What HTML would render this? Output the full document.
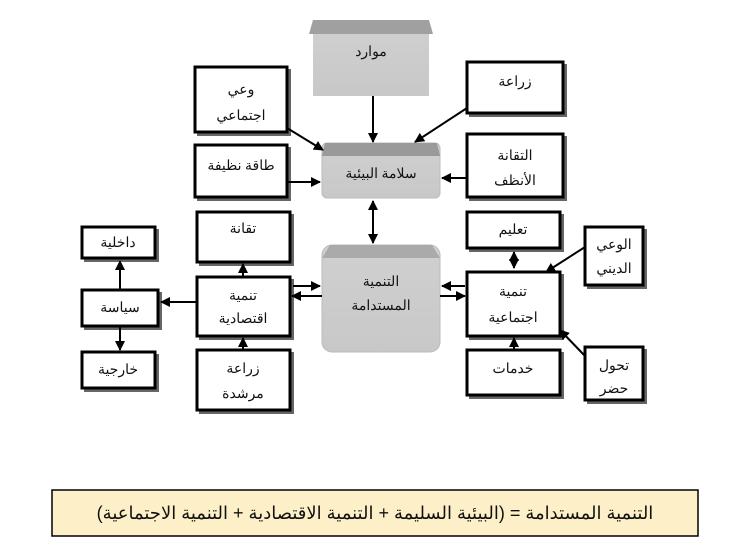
<!DOCTYPE html>
<html><head><meta charset="utf-8"><style>
body{margin:0;width:750px;height:554px;background:#fff;overflow:hidden}
text{font-family:"Liberation Serif","Noto Serif CJK SC","DejaVu Serif",serif;font-size:14px;text-anchor:middle;fill:#111}
</style></head><body>
<svg width="750" height="554" viewBox="0 0 750 554" xmlns="http://www.w3.org/2000/svg">
<defs>
<marker id="a" viewBox="0 0 10 10" refX="9" refY="5" markerWidth="5" markerHeight="5" orient="auto-start-reverse"><path d="M0,0L10,5L0,10z" fill="#000"/></marker>
<linearGradient id="g" x1="0" y1="0" x2="0" y2="1"><stop offset="0" stop-color="#d0d0d0"/><stop offset="1" stop-color="#c8c8c8"/></linearGradient>
</defs>
<g fill="#fff" stroke="#000" stroke-width="3">
<g fill="#666" stroke="none">
<rect x="197" y="69" width="94" height="67"/><rect x="469" y="64" width="98" height="53"/>
<rect x="197" y="147" width="94" height="54"/><rect x="469" y="136" width="98" height="65"/>
<rect x="199" y="214" width="95" height="52"/><rect x="84" y="229" width="75" height="33"/>
<rect x="84" y="292" width="78" height="38"/><rect x="84" y="354" width="75" height="38"/>
<rect x="199" y="279" width="95" height="61"/><rect x="199" y="352" width="95" height="62"/>
<rect x="469" y="214" width="95" height="38"/><rect x="587" y="229" width="60" height="60"/>
<rect x="469" y="274" width="95" height="66"/><rect x="469" y="352" width="95" height="47"/>
<rect x="587" y="349" width="60" height="55"/>
</g>
<rect x="195" y="67" width="92" height="65"/><rect x="467" y="62" width="96" height="51"/>
<rect x="195" y="145" width="92" height="52"/><rect x="467" y="134" width="96" height="63"/>
<rect x="197" y="212" width="93" height="50"/><rect x="82" y="227" width="73" height="31"/>
<rect x="82" y="290" width="76" height="36"/><rect x="82" y="352" width="73" height="36"/>
<rect x="197" y="277" width="93" height="59"/><rect x="197" y="350" width="93" height="60"/>
<rect x="467" y="212" width="93" height="36"/><rect x="585" y="227" width="58" height="58"/>
<rect x="467" y="272" width="93" height="64"/><rect x="467" y="350" width="93" height="45"/>
<rect x="585" y="347" width="58" height="53"/>
</g>
<rect x="313" y="20" width="116" height="76" fill="url(#g)"/>
<path d="M313,20L429,20L433,34L309,34Z" fill="#a0a0a0"/>
<rect x="322" y="143" width="118" height="55" rx="5" fill="url(#g)" stroke="#bbb"/>
<path d="M325,143L437,143L440,156L322,156Z" fill="#9a9a9a"/>
<rect x="322" y="245" width="118" height="107" rx="10" fill="url(#g)" stroke="#bbb"/>
<path d="M330,245L432,245L440,258L322,258Z" fill="#aaa"/>
<g stroke="#000" stroke-width="2" fill="none" marker-end="url(#a)">
<line x1="373" y1="96" x2="373" y2="142"/>
<line x1="287" y1="128" x2="323" y2="150"/>
<line x1="467" y1="108" x2="415" y2="142"/>
<line x1="287" y1="182" x2="320" y2="182"/>
<line x1="467" y1="178" x2="442" y2="178"/>
<line x1="373" y1="201" x2="373" y2="243" marker-start="url(#a)"/>
<line x1="293" y1="286" x2="320" y2="286"/>
<line x1="322" y1="296" x2="292" y2="296"/>
<line x1="465" y1="286" x2="442" y2="286"/>
<line x1="440" y1="296" x2="465" y2="296"/>
<line x1="197" y1="302" x2="161" y2="302"/>
<line x1="120" y1="290" x2="120" y2="261"/>
<line x1="120" y1="326" x2="120" y2="350"/>
<line x1="243" y1="277" x2="243" y2="264"/>
<line x1="243" y1="350" x2="243" y2="338"/>
<line x1="514" y1="252" x2="514" y2="268" marker-start="url(#a)"/>
<line x1="514" y1="350" x2="514" y2="338"/>
<line x1="585" y1="247" x2="546" y2="272"/>
<line x1="585" y1="356" x2="560" y2="330"/>
</g>
<text x="371" y="56">موارد</text>
<text x="241" y="94">وعي</text><text x="241" y="120">اجتماعي</text>
<text x="515" y="86">زراعة</text>
<text x="241" y="170">طاقة نظيفة</text>
<text x="381" y="178">سلامة البيئية</text>
<text x="515" y="160">التقانة</text><text x="515" y="185">الأنظف</text>
<text x="243" y="233">تقانة</text>
<text x="118" y="247">داخلية</text>
<text x="120" y="312">سياسة</text>
<text x="118" y="374">خارجية</text>
<text x="243" y="300">تنمية</text><text x="243" y="323">اقتصادية</text>
<text x="243" y="373">زراعة</text><text x="243" y="398">مرشدة</text>
<text x="381" y="286">التنمية</text><text x="381" y="310">المستدامة</text>
<text x="513" y="234">تعليم</text>
<text x="614" y="249">الوعي</text><text x="614" y="273">الديني</text>
<text x="513" y="296">تنمية</text><text x="513" y="322">اجتماعية</text>
<text x="513" y="373">خدمات</text>
<text x="614" y="370">تحول</text><text x="614" y="393">حضر</text>
<rect x="52" y="490" width="646" height="46" fill="#fdf0c8" stroke="#000" stroke-width="1.5"/>
<text x="375" y="519" style="font-size:18px;font-family:'Liberation Sans','DejaVu Sans',sans-serif">التنمية المستدامة = (البيئية السليمة + التنمية الاقتصادية + التنمية الاجتماعية)</text>
</svg>
</body></html>
